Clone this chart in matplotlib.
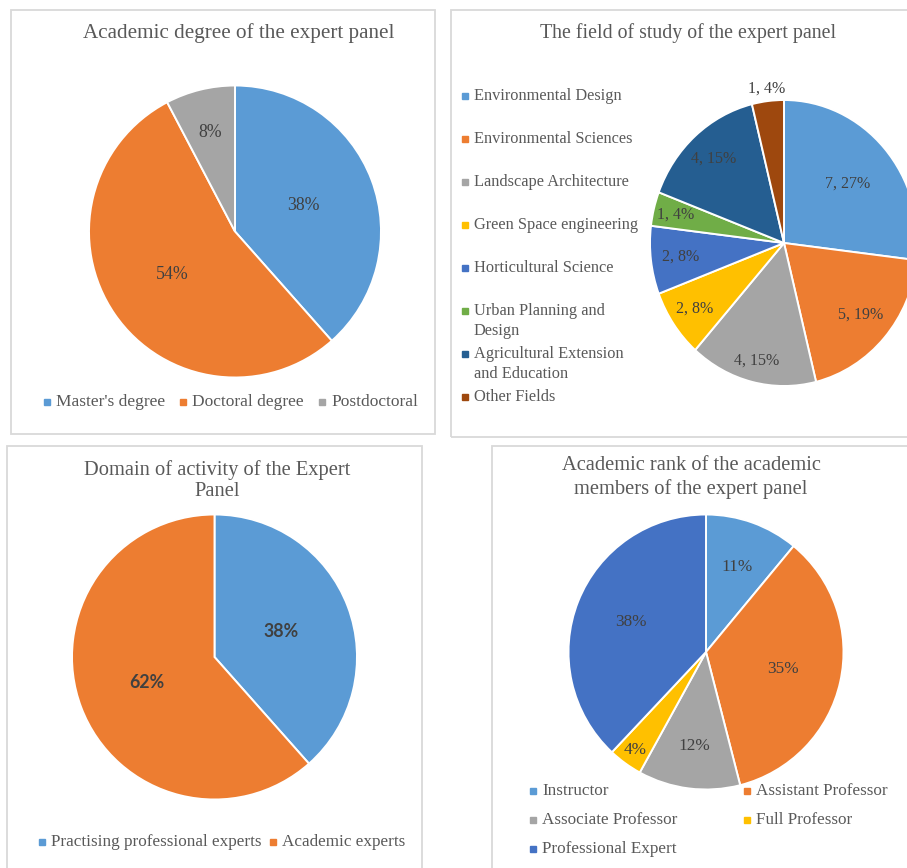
import numpy as np
import matplotlib
matplotlib.use('Agg')
import matplotlib.pyplot as plt
from matplotlib.patches import Rectangle

plt.rcParams['font.family'] = ['Liberation Serif', 'DejaVu Serif']

W, H = 907, 868

# datos de los cuatro graficos
degree_labels = ["Master's degree", "Doctoral degree", "Postdoctoral"]
degree_counts = [10, 14, 2]

field_labels = ["Environmental Design", "Environmental Sciences", "Landscape Architecture",
                "Green Space engineering", "Horticultural Science", "Urban Planning and\nDesign",
                "Agricultural Extension\nand Education", "Other Fields"]
field_counts = [7, 5, 4, 2, 2, 1, 4, 1]

domain_labels = ["Practising professional experts", "Academic experts"]
domain_counts = [10, 16]

rank_labels = ["Instructor", "Assistant Professor", "Associate Professor",
               "Full Professor", "Professional Expert"]
rank_pct = [11, 35, 12, 4, 38]

# colores tipo Office
BLUE, ORANGE, GRAY, GOLD = '#5B9BD5', '#ED7D31', '#A5A5A5', '#FFC000'
DBLUE, GREEN, NAVY, BROWN = '#4472C4', '#70AD47', '#255E91', '#9E480E'
TITLE_C = '#595959'
LABEL_C = '#404040'

fig = plt.figure(figsize=(W / 100, H / 100), dpi=100)


def px(x, y):
    return x / W, 1 - y / H


def box(x0, y0, x1, y1):
    fig.add_artist(Rectangle((x0 / W, 1 - y1 / H), (x1 - x0) / W, (y1 - y0) / H,
                             transform=fig.transFigure, fill=False,
                             edgecolor='#D9D9D9', lw=1.3, zorder=0))


def title(x, y, text, fs=14.8, step=23):
    for k, line in enumerate(text.split('\n')):
        fig.text(*px(x, y + k * step), line, ha='center', va='center',
                 fontsize=fs, color=TITLE_C)


def legend_item(x, y, label, color, fs=12.3, step=20):
    fig.add_artist(Rectangle(((x - 3) / W, 1 - (y + 3) / H), 6 / W, 6 / H,
                             transform=fig.transFigure, color=color))
    for k, line in enumerate(label.split('\n')):
        fig.text(*px(x + 9, y + k * step), line, ha='left', va='center',
                 fontsize=fs, color=TITLE_C)


def pie_chart(cx, cy, rx, ry, values, colors, texts, dist, **kw):
    pad = 1.1
    ax = fig.add_axes([(cx - rx * pad) / W, 1 - (cy + ry * pad) / H,
                       2 * rx * pad / W, 2 * ry * pad / H])
    wedges, _ = ax.pie(values, colors=colors, startangle=90, counterclock=False,
                       wedgeprops=dict(edgecolor='white', linewidth=1.4))
    ax.set_aspect('auto')
    ax.set_xlim(-pad, pad)
    ax.set_ylim(-pad, pad)
    ax.axis('off')
    for w, t, d in zip(wedges, texts, dist):
        a = np.deg2rad((w.theta1 + w.theta2) / 2)
        ax.text(d * np.cos(a), d * np.sin(a), t, ha='center', va='center',
                color=LABEL_C, clip_on=False, **kw)
    return ax


# ---- grafico 1: grado academico
box(11, 10, 435, 434)
title(239, 33, 'Academic degree of the expert panel', fs=15.2)
tot = sum(degree_counts)
txt = ['%d%%' % round(100 * v / tot) for v in degree_counts]
pie_chart(235, 231.5, 146, 146, degree_counts, [BLUE, ORANGE, GRAY], txt,
          [0.5, 0.52, 0.7], fontsize=12.8)
for x, lab, c in zip([47, 183, 322], degree_labels, [BLUE, ORANGE, GRAY]):
    legend_item(x, 402, lab, c, fs=12.5)

# ---- grafico 2: campo de estudio
box(451, 10, 920, 437)
title(688, 33, 'The field of study of the expert panel', fs=14.3)
tot = sum(field_counts)
txt = ['%d, %d%%' % (v, round(100 * v / tot)) for v in field_counts]
fcols = [BLUE, ORANGE, GRAY, GOLD, DBLUE, GREEN, NAVY, BROWN]
pie_chart(784, 243, 134, 143, field_counts, fcols, txt,
          [0.63, 0.76, 0.85, 0.81, 0.78, 0.83, 0.79, 1.09], fontsize=11.5)
for i, (lab, c) in enumerate(zip(field_labels, fcols)):
    legend_item(465, 96 + 43 * i, lab, c, fs=11.8)

# ---- grafico 3: dominio de actividad
box(7, 446, 422, 875)
title(217, 470, 'Domain of activity of the Expert\nPanel', step=22)
tot = sum(domain_counts)
txt = ['%d%%' % round(100 * v / tot) for v in domain_counts]
pie_chart(214.5, 657, 142.5, 142.5, domain_counts, [BLUE, ORANGE], txt,
          [0.5, 0.51], fontsize=12.8, fontweight='bold', family=['Lato', 'DejaVu Sans'])
for x, lab, c in zip([42, 273], domain_labels, [BLUE, ORANGE]):
    legend_item(x, 842, lab, c)

# ---- grafico 4: rango academico
box(492, 446, 920, 875)
title(691, 465, 'Academic rank of the academic\nmembers of the expert panel', step=24)
txt = ['%d%%' % v for v in rank_pct]
rcols = [BLUE, ORANGE, GRAY, GOLD, DBLUE]
pie_chart(706, 652, 137.5, 137.5, rank_pct, rcols, txt,
          [0.66, 0.57, 0.69, 0.88, 0.59], fontsize=12.4)
for i, (lab, c) in enumerate(zip(rank_labels, rcols)):
    legend_item(533 + 214 * (i % 2), 791 + 29 * (i // 2), lab, c)

plt.savefig('out.png', dpi=100)
